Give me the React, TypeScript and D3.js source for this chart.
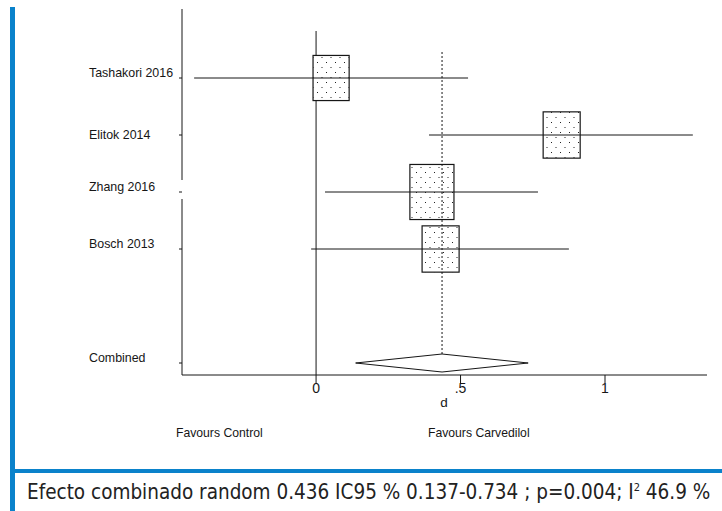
import { scaleLinear, scalePoint } from "d3";

// study rows (empty string = blank spacer row before the pooled estimate)
const rows = ["Tashakori 2016", "Elitok 2014", "Zhang 2016", "Bosch 2013", "", "Combined"];
const studies = ["Tashakori 2016", "Elitok 2014", "Zhang 2016", "Bosch 2013"];
const effects = [0.052, 0.85, 0.401, 0.431];
const lower = [-0.422, 0.391, 0.031, -0.017];
const upper = [0.526, 1.304, 0.768, 0.875];
const weights = [23.6, 24.2, 28.8, 24.2];

const pooled = { label: "Combined", effect: 0.436, lower: 0.137, upper: 0.734 };
const xTicks = [0, 0.5, 1];
const xTickLabels = ["0", ".5", "1"];
const footer = "Efecto combinado random 0.436 IC95 % 0.137-0.734 ; p=0.004; I";
const footerTail = " 46.9 %";

const BLUE = "#0a82cb";
const INK = "#161616";
const LABEL_FONT = "'Liberation Sans', Arial, sans-serif";

export default function App() {
  const width = 722;
  const height = 511;

  const x = scaleLinear().domain([-0.464, 1.353]).range([182, 707]);
  const y = scalePoint().domain(rows).range([78, 363]);
  const size = scaleLinear().domain([0, 100]).range([0, 153]);

  const axisTop = 9;
  const axisBottom = 375;
  const zhangY = y("Zhang 2016") ?? 0;
  const yc = y(pooled.label) ?? 0;
  const half = 9;
  const diamond = [
    [x(pooled.lower), yc],
    [x(pooled.effect), yc - half],
    [x(pooled.upper), yc],
    [x(pooled.effect), yc + half],
  ]
    .map((p) => p.join(","))
    .join(" ");

  return (
    <svg
      width={width}
      height={height}
      viewBox={`0 0 ${width} ${height}`}
      style={{ position: "absolute", left: 0, top: 0, background: "#fff" }}
    >
      <defs>
        <pattern id="dots" width={9} height={10} patternUnits="userSpaceOnUse">
          <rect x={2} y={2} width={1} height={1} fill="#222" />
          <rect x={6.5} y={7} width={1} height={1} fill="#222" />
        </pattern>
      </defs>

      {/* frame */}
      <rect x={10} y={7} width={5} height={height - 7} fill={BLUE} />
      <rect x={10} y={469} width={width - 10} height={4} fill={BLUE} />

      {/* y axis, broken behind the Zhang label */}
      <line x1={x(-0.464)} x2={x(-0.464)} y1={axisTop} y2={zhangY - 12} stroke={INK} strokeWidth={1} />
      <line x1={x(-0.464)} x2={x(-0.464)} y1={zhangY + 7} y2={axisBottom} stroke={INK} strokeWidth={1} />
      {rows
        .filter((r) => r !== "")
        .map((r) => (
          <g key={r}>
            <line x1={x(-0.464) - 3} x2={x(-0.464)} y1={y(r)} y2={y(r)} stroke={INK} strokeWidth={1} />
            <text x={89} y={y(r)} dy={r === "Elitok 2014" ? 4 : -1} fontFamily={LABEL_FONT} fontSize={12.4} fill={INK}>
              {r}
            </text>
          </g>
        ))}

      {/* x axis */}
      <line x1={x(-0.464)} x2={x(1.353)} y1={axisBottom} y2={axisBottom} stroke={INK} strokeWidth={1} />
      {xTicks.map((t, i) => (
        <g key={t}>
          <line x1={x(t)} x2={x(t)} y1={axisBottom} y2={axisBottom + 8} stroke={INK} strokeWidth={1} />
          <text x={x(t)} y={393} textAnchor="middle" fontFamily={LABEL_FONT} fontSize={14} fill={INK}>
            {xTickLabels[i]}
          </text>
        </g>
      ))}
      <text x={x(pooled.effect) + 2} y={407} textAnchor="middle" fontFamily={LABEL_FONT} fontSize={13.5} fill={INK}>
        d
      </text>

      {/* null line */}
      <line x1={x(0)} x2={x(0)} y1={31} y2={axisBottom} stroke={INK} strokeWidth={1} />

      {/* studies */}
      {studies.map((s, i) => {
        const cy = y(s) ?? 0;
        const w = size(weights[i]);
        const h = w * 1.25;
        return (
          <g key={s}>
            <rect
              x={x(effects[i]) - w / 2}
              y={cy - h / 2}
              width={w}
              height={h}
              fill="#fff"
              stroke={INK}
              strokeWidth={1.2}
            />
            <rect x={x(effects[i]) - w / 2} y={cy - h / 2} width={w} height={h} fill="url(#dots)" />
            <line x1={x(lower[i])} x2={x(upper[i])} y1={cy} y2={cy} stroke={INK} strokeWidth={1} />
          </g>
        );
      })}

      {/* pooled estimate */}
      <line
        x1={x(pooled.effect)}
        x2={x(pooled.effect)}
        y1={52}
        y2={yc - half}
        stroke={INK}
        strokeWidth={1}
        strokeDasharray="2,2"
      />
      <polygon points={diamond} fill="#fff" stroke={INK} strokeWidth={1} />

      {/* favours labels */}
      <text x={176} y={437} fontFamily={LABEL_FONT} fontSize={12.2} fill={INK}>
        Favours Control
      </text>
      <text x={428} y={437} fontFamily={LABEL_FONT} fontSize={12.2} fill={INK}>
        Favours Carvedilol
      </text>

      {/* footer */}
      <text x={27} y={499} fontFamily="'DejaVu Sans Condensed', 'DejaVu Sans', sans-serif" fontSize={20.5} fill="#222">
        {footer}
        <tspan dy={-8} fontSize={11}>
          2
        </tspan>
        <tspan dy={8}>{footerTail}</tspan>
      </text>
    </svg>
  );
}
